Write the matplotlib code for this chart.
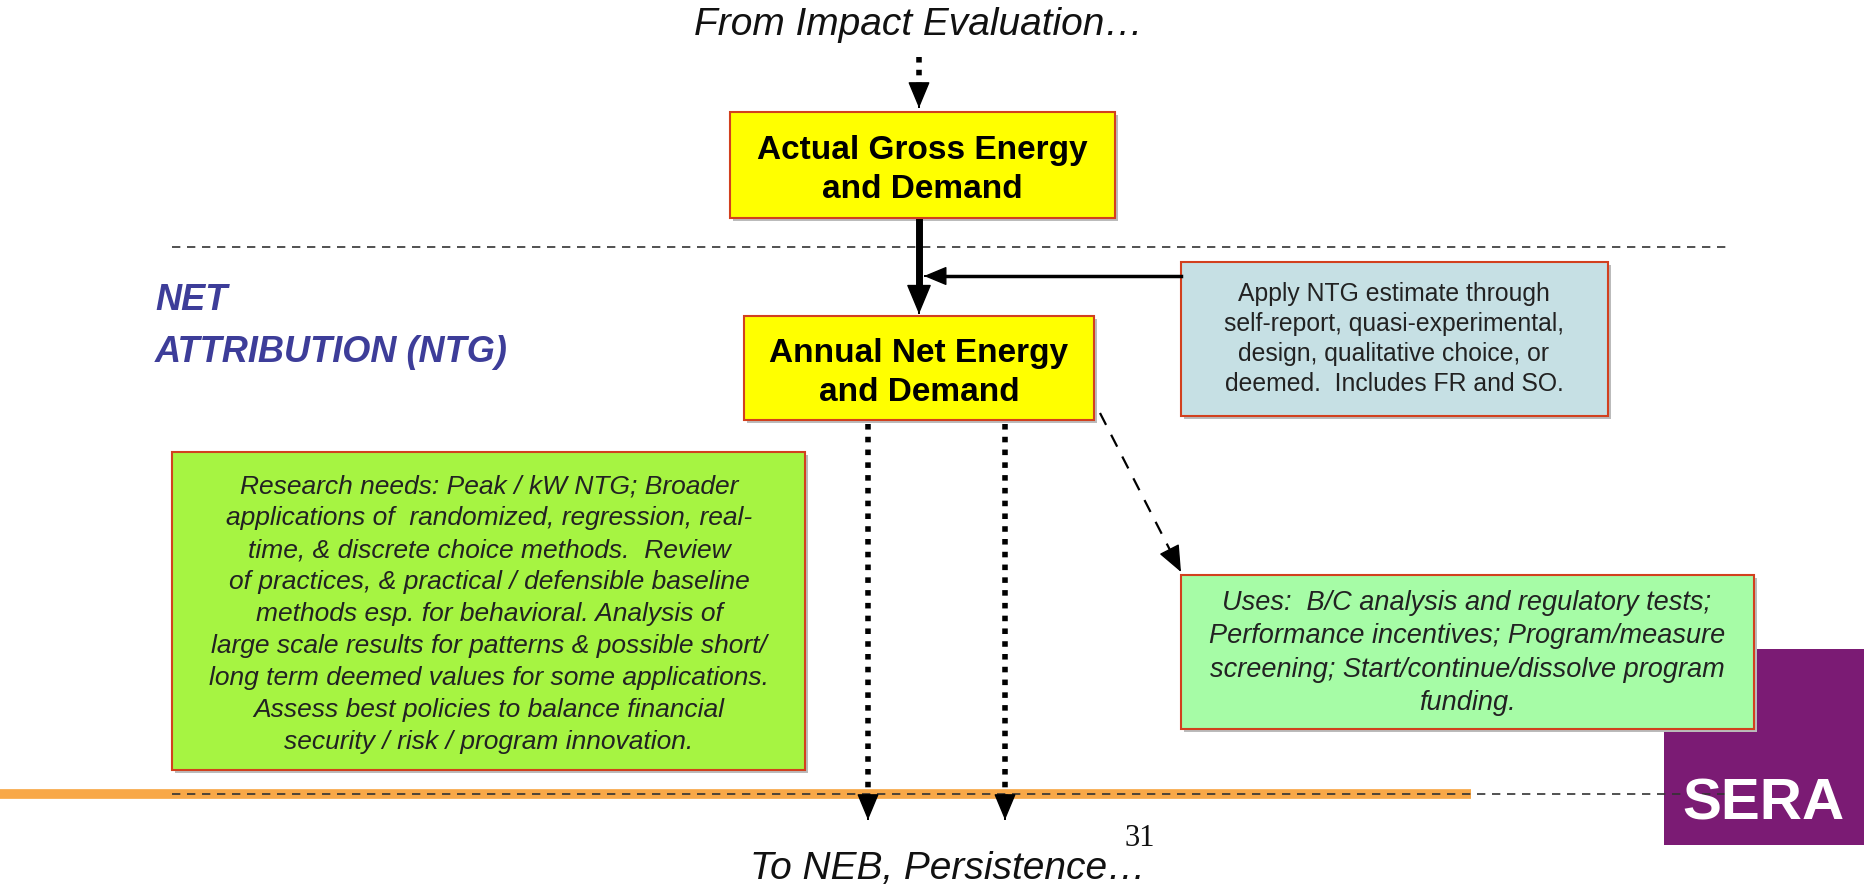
import matplotlib.pyplot as plt
from matplotlib.patches import Rectangle

# text of the diagram
top_label = "From Impact Evaluation…"
bottom_label = "To NEB, Persistence…"
side_label = ["NET", "ATTRIBUTION (NTG)"]
gross_box = "Actual Gross Energy\nand Demand"
net_box = "Annual Net Energy\nand Demand"
ntg_text = ["Apply NTG estimate through", "self-report, quasi-experimental,",
            "design, qualitative choice, or", "deemed.  Includes FR and SO."]
research_text = ["Research needs: Peak / kW NTG; Broader",
                 "applications of  randomized, regression, real-",
                 "time, & discrete choice methods.  Review",
                 "of practices, & practical / defensible baseline",
                 "methods esp. for behavioral. Analysis of",
                 "large scale results for patterns & possible short/",
                 "long term deemed values for some applications.",
                 "Assess best policies to balance financial",
                 "security / risk / program innovation."]
uses_text = ["Uses:  B/C analysis and regulatory tests;",
             "Performance incentives; Program/measure",
             "screening; Start/continue/dissolve program",
             "funding."]
page_no = "31"
logo = "SERA"

W, H = 1864, 888
fig = plt.figure(figsize=(W / 100, H / 100), dpi=100)
ax = fig.add_axes([0, 0, 1, 1])
ax.set_xlim(0, W)
ax.set_ylim(H, 0)
ax.axis('off')

sans = ['Liberation Sans', 'DejaVu Sans']
edge = '#D2401E'


def box(x0, y0, x1, y1, fc):
    ax.add_patch(Rectangle((x0 + 3, y0 + 3), x1 - x0, y1 - y0, fc='#BBBBBB', ec='none', zorder=1))
    ax.add_patch(Rectangle((x0, y0), x1 - x0, y1 - y0, fc=fc, ec=edge, lw=1.5, zorder=2))


def head(x, y, dx=0, dy=1, ms=28):
    ax.annotate('', xy=(x, y), xytext=(x - dx, y - dy),
                arrowprops=dict(arrowstyle='-|>,head_length=0.6,head_width=0.25', color='k',
                                lw=1, mutation_scale=ms, shrinkA=0, shrinkB=0), zorder=5)


# separator lines
ax.plot([172, 1730], [247, 247], color='#333333', lw=1.2, ls=(0, (5, 4)), zorder=0)
ax.plot([0, 1471], [794, 794], color='#F8A848', lw=7, solid_capstyle='butt', zorder=0)
ax.plot([172, 1730], [794, 794], color='#333333', lw=1.2, ls=(0, (5, 4)), zorder=1)

# top / bottom captions
ax.text(919, 25, top_label, ha='center', va='center', fontsize=28, style='italic',
        family=sans, color='#111111')
ax.text(948, 869, bottom_label, ha='center', va='center', fontsize=28, style='italic',
        family=sans, color='#111111')
ax.text(1140, 838, page_no, ha='center', va='center', fontsize=22,
        family=['Liberation Serif', 'DejaVu Serif'], color='#111111')

# NET ATTRIBUTION label
ax.text(155, 300, side_label[0], ha='left', va='center', fontsize=26, style='italic',
        weight='bold', family=sans, color='#3D3D99')
ax.text(155, 352, side_label[1], ha='left', va='center', fontsize=26, style='italic',
        weight='bold', family=sans, color='#3D3D99')

# arrows
ax.plot([919, 919], [57, 88], color='k', lw=4, ls=(0, (1, 1.3)), zorder=3)
head(919, 108, ms=28)
ax.plot([919, 919], [222, 295], color='k', lw=5, zorder=3)
head(919, 314, ms=32)
ax.plot([1181, 935], [276, 276], color='k', lw=2.5, zorder=3)
head(924, 276, dx=-1, dy=0, ms=24)
for xd in [868, 1005]:
    ax.plot([xd, xd], [424, 796], color='k', lw=4, ls=(0, (1, 1.3)), zorder=3)
    head(xd, 820, ms=28)
ax.plot([1100, 1171], [413, 552], color='k', lw=1.6, ls=(0, (6, 5)), zorder=3)
head(1181, 572, dx=8, dy=15.6, ms=28)

# yellow boxes
box(730, 112, 1115, 218, '#FFFF00')
ax.text(922, 170, gross_box, ha='center', va='center', fontsize=24, weight='bold',
        family=sans, linespacing=1.3, zorder=4)
box(744, 316, 1094, 420, '#FFFF00')
ax.text(919, 373, net_box, ha='center', va='center', fontsize=24, weight='bold',
        family=sans, linespacing=1.3, zorder=4)

# blue NTG box
box(1181, 262, 1608, 416, '#C6E0E4')
ax.text(1394, 339, "\n".join(ntg_text), ha='center', va='center', fontsize=17.8,
        family=sans, color='#222222', linespacing=1.33, zorder=4)

# research box
box(172, 452, 805, 770, '#A6F442')
ax.text(489, 614, "\n".join(research_text), ha='center', va='center', fontsize=19,
        style='italic', family=sans, color='#222222', linespacing=1.42, zorder=4)

# uses box
box(1181, 575, 1754, 729, '#A6FCA6')
ax.text(1467, 653, "\n".join(uses_text), ha='center', va='center', fontsize=19.5,
        style='italic', family=sans, color='#222222', linespacing=1.38, zorder=4)

# logo
ax.add_patch(Rectangle((1664, 649), 200, 196, fc='#7B1B74', ec='none', zorder=0.5))
ax.text(1763, 804, logo, ha='center', va='center', fontsize=42, weight='bold',
        family=sans, color='white', zorder=6)

fig.savefig('out.png', dpi=100)
